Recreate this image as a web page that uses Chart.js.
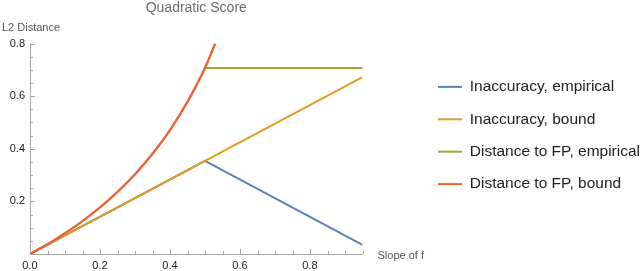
<!DOCTYPE html>
<html>
<head>
<meta charset="utf-8">
<script src="https://cdn.jsdelivr.net/npm/chart.js@4/dist/chart.umd.min.js"></script>
<style>
html,body{margin:0;padding:0;background:#fff;}
#wrap{width:640px;height:271px;}
</style>
</head>
<body>
<div id="wrap"><canvas id="c" width="640" height="271"></canvas></div>
<script>
// ---- data ----
const seriesNames = ["Inaccuracy, empirical", "Inaccuracy, bound", "Distance to FP, empirical", "Distance to FP, bound"];
const inaccEmpX = [0, 0.5, 0.95];
const inaccEmpY = [0, 0.354, 0.035];
const inaccBoundX = [0, 0.95];
const inaccBoundY = [0, 0.672];
const distEmpX = [0.5, 0.95];
const distEmpY = [0.707, 0.707];
const distBoundX = [0, 0.05, 0.1, 0.15, 0.2, 0.25, 0.3, 0.35, 0.4, 0.45, 0.5, 0.529];
const distBoundY = [0, 0.037, 0.079, 0.125, 0.177, 0.236, 0.303, 0.381, 0.471, 0.579, 0.707, 0.8];
const xTickLabels = [0, 0.2, 0.4, 0.6, 0.8];
const yTickLabels = [0.2, 0.4, 0.6, 0.8];
const colors = ["#5E81B5", "#E19C24", "#8FB032", "#EB6235"];

function pts(xs, ys){ return xs.map((x,i)=>({x:x, y:ys[i]})); }

const FONT = '"Liberation Sans", Arial, Helvetica, sans-serif';
const axisColor = '#a6a6a6';
const legendFontSize = 15.5;
const legendPad = 32.4 - legendFontSize;
const targetItemX = 438;
const targetRight = 362.5;

const tickPlugin = {
  id: 'inwardTicks',
  afterDraw(chart){
    const ctx = chart.ctx;
    const xs = chart.scales.x, ys = chart.scales.y;
    const ca = chart.chartArea;
    ctx.save();
    ctx.strokeStyle = axisColor;
    ctx.lineWidth = 1;
    ctx.beginPath();
    for (let k = 1; k <= 19; k++) {
      const v = k * 0.05;
      const px = Math.round(xs.getPixelForValue(v)) + 0.5;
      const major = (k % 4 === 0);
      const len = major ? 5 : 3;
      ctx.moveTo(px, ca.bottom);
      ctx.lineTo(px, ca.bottom - len);
    }
    for (let k = 1; k <= 16; k++) {
      const v = k * 0.05;
      const py = Math.round(ys.getPixelForValue(v)) + 0.5;
      const major = (k % 4 === 0);
      const len = major ? 5 : 3;
      ctx.moveTo(ca.left, py);
      ctx.lineTo(ca.left + len, py);
    }
    ctx.stroke();
    // axis labels
    ctx.fillStyle = '#555';
    ctx.font = '11px ' + FONT;
    ctx.textAlign = 'left';
    ctx.textBaseline = 'alphabetic';
    ctx.fillText('L2 Distance', 2, 30.7);
    ctx.fillText('Slope of f', ca.right + 15, 258.5);
    ctx.restore();
  }
};

const cfg = {
  type: 'line',
  data: {
    datasets: [
      {label: seriesNames[0], data: pts(inaccEmpX, inaccEmpY), borderColor: colors[0], backgroundColor: colors[0], order: 4},
      {label: seriesNames[1], data: pts(inaccBoundX, inaccBoundY), borderColor: colors[1], backgroundColor: colors[1], order: 3},
      {label: seriesNames[2], data: pts(distEmpX, distEmpY), borderColor: colors[2], backgroundColor: colors[2], order: 2},
      {label: seriesNames[3], data: pts(distBoundX, distBoundY), borderColor: colors[3], backgroundColor: colors[3], order: 1, cubicInterpolationMode: 'monotone', borderWidth: 2.4}
    ]
  },
  options: {
    responsive: false,
    animation: false,
    layout: {padding: {left: 0, right: 0, top: 0, bottom: 0}},
    elements: {point: {radius: 0}, line: {borderWidth: 2, fill: false}},
    scales: {
      x: {
        type: 'linear', min: 0, max: 0.95,
        grid: {display: false, drawTicks: false},
        border: {display: true, color: axisColor, width: 1},
        afterBuildTicks: s => { s.ticks = xTickLabels.map(v => ({value: v})); },
        ticks: {color: '#222', font: {size: 11, family: FONT}, padding: 5, maxRotation: 0,
          callback: v => Number(v).toFixed(1)},
        afterFit: s => { s.height = 17; }
      },
      y: {
        type: 'linear', min: 0, max: 0.8,
        grid: {display: false, drawTicks: false},
        border: {display: true, color: axisColor, width: 1},
        afterBuildTicks: s => { s.ticks = yTickLabels.map(v => ({value: v})); },
        ticks: {color: '#222', font: {size: 11, family: FONT}, padding: 5,
          callback: v => Number(v).toFixed(1)},
        afterFit: s => { s.width = 30; }
      },
      yr: {
        type: 'linear', position: 'right', min: 0, max: 1,
        grid: {display: false, drawTicks: false},
        border: {display: false},
        ticks: {display: false},
        afterFit: s => { s.width = window.__rightW || 60; }
      }
    },
    plugins: {
      title: {
        display: true, text: 'Quadratic Score', fullSize: false,
        color: '#6b6b6b', font: {size: 14, family: FONT, weight: 'normal', lineHeight: 1.0},
        padding: {top: 1, bottom: 28.5}
      },
      legend: {
        position: 'right',
        maxWidth: 400,
        labels: {
          boxWidth: 24, boxHeight: 2, padding: legendPad, color: '#222',
          font: {size: legendFontSize, family: FONT},
          sort: (a, b) => a.datasetIndex - b.datasetIndex,
          generateLabels: chart => Chart.defaults.plugins.legend.labels.generateLabels(chart).map(l => Object.assign(l, {lineWidth: 0}))
        }
      },
      tooltip: {enabled: false}
    }
  },
  plugins: [tickPlugin]
};

const chart = new Chart(document.getElementById('c'), cfg);
// tune layout so legend and plot area land where the reference has them
const lw = chart.legend.width;
const legendLeft = targetItemX - legendPad;
chart.options.layout.padding.right = 640 - legendLeft - lw;
window.__rightW = legendLeft - targetRight;
chart.update();
</script>
</body>
</html>
